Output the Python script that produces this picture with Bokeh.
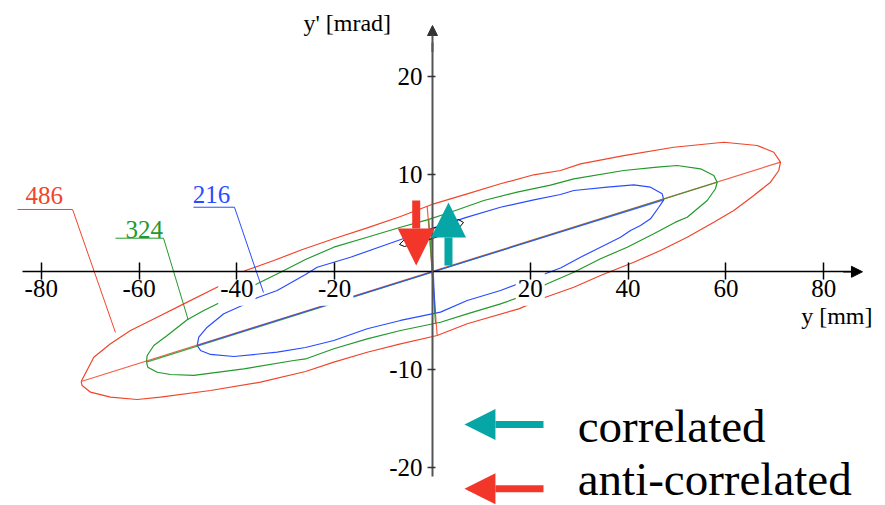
from bokeh.plotting import figure
from bokeh.models import Range1d, FixedTicker, Arrow, NormalHead, Label, CustomJSTickFormatter
from bokeh.embed import file_html
from bokeh.resources import INLINE

# --- phase-space contours: y [mm], y' [mrad] -------------------------------
red_y = [-71.84, -69.26, -65.85, -61.76, -56.30, -50.86, -43.35, -38.24, -32.45,
         -26.59, -20.18, -13.35, -6.54, 0.27, 7.10, 13.91, 20.72, 26.18, 30.27,
         39.12, 49.35, 59.57, 66.40, 69.80, 71.17, 70.82, 69.12, 65.71, 61.62,
         57.53, 52.09, 46.63, 41.17, 34.36, 28.90, 23.11, 17.65, 7.10, 0.96,
         -6.54, -13.35, -20.18, -25.97, -35.17, -45.40, -55.62, -60.39, -65.85,
         -69.94, -71.64, -71.84]
red_yp = [-11.23, -8.74, -7.37, -6.01, -4.65, -3.28, -1.40, 0.13, 1.16,
          2.28, 3.38, 4.50, 5.66, 6.96, 7.98, 9.01, 9.93, 10.37, 11.05,
          11.90, 12.75, 13.26, 12.93, 12.24, 11.22, 10.37, 9.17, 7.81, 6.27,
          5.08, 3.54, 2.18, 0.98, -0.38, -1.58, -2.60, -3.79, -5.32, -6.52,
          -7.37, -8.23, -9.25, -10.20, -11.30, -12.15, -12.83, -13.07, -12.83,
          -12.32, -11.64, -11.23]

green_y = [-58.49, -58.34, -56.99, -54.25, -50.16, -46.77, -43.35, -35.85, -31.08,
           -25.97, -20.18, -13.35, -6.54, -1.08, 3.68, 10.49, 17.32, 24.13, 28.90,
           39.12, 45.95, 50.04, 54.81, 57.53, 58.22, 57.87, 56.18, 52.09, 49.69,
           45.26, 39.82, 34.36, 28.90, 23.11, 20.72, 13.91, 7.10, 1.64, -6.54,
           -13.35, -20.18, -25.97, -28.36, -38.59, -48.81, -53.58, -56.30, -58.22,
           -58.49]
green_yp = [-9.25, -8.57, -7.54, -6.52, -4.91, -3.96, -3.11, -1.23, -0.04,
            1.26, 2.52, 3.54, 4.56, 5.32, 6.10, 7.30, 8.15, 8.88, 9.52,
            10.37, 10.71, 10.88, 10.54, 9.86, 9.17, 8.50, 7.30, 5.59, 5.08,
            3.89, 2.52, 1.33, -0.04, -1.30, -2.09, -3.28, -4.30, -5.16, -6.01,
            -6.86, -7.88, -8.92, -9.08, -9.93, -10.61, -10.51, -10.28, -9.76,
            -9.25]

blue_y = [-48.12, -47.79, -46.07, -42.68, -38.92, -35.85, -31.76, -25.97, -23.58,
          -16.77, -9.96, -3.13, 0.27, 7.10, 13.91, 20.72, 26.18, 28.90, 35.73,
          41.17, 44.58, 46.97, 47.30, 46.28, 44.58, 42.54, 40.49, 38.45, 34.36,
          30.27, 26.18, 22.09, 13.91, 7.10, 1.64, -6.54, -13.35, -20.18, -25.97,
          -31.76, -40.63, -45.40, -47.44, -48.12]
blue_yp = [-7.54, -6.69, -5.67, -4.30, -3.45, -2.66, -1.91, -0.28, 0.47,
           1.49, 2.69, 3.89, 4.50, 5.59, 6.61, 7.37, 7.91, 8.32, 8.66,
           8.90, 8.66, 7.98, 7.37, 6.61, 5.42, 4.74, 4.23, 3.54, 2.52,
           1.49, 0.39, -0.38, -1.91, -2.94, -4.13, -4.98, -5.83, -7.03, -7.75,
           -8.23, -8.67, -8.46, -8.05, -7.54]

# principal axis (tip to tip) and the line through y = 0 for each contour
red_axis_y, red_axis_yp = [-71.84, 71.17], [-11.23, 11.22]
green_axis_y, green_axis_yp = [-58.49, 58.22], [-9.25, 9.17]
blue_axis_y, blue_axis_yp = [-48.12, 47.30], [-7.54, 7.37]
red_cut_y, red_cut_yp = [-1.08, 0.96], [6.70, -6.52]
green_cut_y, green_cut_yp = [-0.76, 0.61], [5.37, -5.27]
blue_cut_y, blue_cut_yp = [-0.27, 0.55], [4.43, -4.24]

# small black outline near the origin
star_y = [-6.75, -5.52, -2.86, 0.0, 2.86, 5.32, 6.34, 5.32, 2.86, 0.0, -2.86, -5.73, -6.75]
star_yp = [2.80, 3.41, 3.92, 4.43, 4.84, 5.35, 5.05, 4.43, 3.92, 3.41, 3.00, 2.59, 2.80]

# contour labels with their leader lines
labels = ["486", "324", "216"]
label_x = [-83.23, -62.78, -49.02]
label_yp = [6.92, 3.44, 7.02]
leader_x = [[-84.87, -73.60, -64.83], [-64.83, -55.00, -49.96], [-48.88, -40.49, -34.56]]
leader_yp = [[6.38, 6.38, -6.21], [3.44, 3.44, -4.91], [6.61, 6.61, -2.12]]

x_ticks = [-80, -60, -40, -20, 20, 40, 60, 80]
y_ticks = [-20, -10, 10, 20]

RED = "#f0452a"
GREEN = "#22992a"
BLUE = "#2a4cff"
ARROW_RED = "#f2362a"
TEAL = "#07a6a6"
FONT = "Liberation Serif"

# plot scale: pixels per data unit (frame is 885 x 505 px)
X0, X1 = -88.34, 92.64
Y0, Y1 = -23.92, 27.77
PX_X = 885 / (X1 - X0)
PX_Y = 505 / (Y1 - Y0)

p = figure(width=885, height=505, x_range=Range1d(X0, X1),
           y_range=Range1d(Y0, Y1), output_backend="svg",
           toolbar_location=None, min_border=0, outline_line_color=None,
           background_fill_color="white", border_fill_color="white")
p.grid.visible = False

# contours
for xs, ys, c in [(red_y, red_yp, RED), (green_y, green_yp, GREEN), (blue_y, blue_yp, BLUE)]:
    p.line(xs, ys, line_color=c, line_width=1.2)
for xs, ys, c in [(red_axis_y, red_axis_yp, RED), (green_axis_y, green_axis_yp, GREEN),
                  (blue_axis_y, blue_axis_yp, BLUE),
                  (red_cut_y, red_cut_yp, RED), (green_cut_y, green_cut_yp, GREEN),
                  (blue_cut_y, blue_cut_yp, BLUE)]:
    p.line(xs, ys, line_color=c, line_width=1.2, line_alpha=0.85)
p.line(star_y, star_yp, line_color="black", line_width=1)

# white boxes behind the x tick labels (the curves are interrupted there)
def label_half_width(t):
    s = str(t)
    return (12.5 * sum(ch.isdigit() for ch in s) + 8.3 * s.count("-")) / 2 + 2

p.quad(left=[t - label_half_width(t) / PX_X for t in x_ticks],
       right=[t + label_half_width(t) / PX_X for t in x_ticks],
       top=[0] * len(x_ticks), bottom=[-34 / PX_Y] * len(x_ticks),
       fill_color="white", line_color=None)

# leaders and contour labels
for lx, ly, c in zip(leader_x, leader_yp, [RED, GREEN, BLUE]):
    p.line(lx, ly, line_color=c, line_width=1)
for t, x, y, c in zip(labels, label_x, label_yp, [RED, GREEN, BLUE]):
    p.add_layout(Label(x=x, y=y, text=t, text_font=FONT, text_font_size="25px",
                       text_color=c))

# axes crossing at the origin
xa, ya = p.xaxis[0], p.yaxis[0]
xa.fixed_location = 0
ya.fixed_location = 0
xa.ticker = FixedTicker(ticks=x_ticks)
ya.ticker = FixedTicker(ticks=y_ticks)
xa.bounds = (-83.8, 86.0)
ya.bounds = (-21.0, 23.5)
xa.axis_line_color = "black"
xa.axis_line_width = 1.5
xa.major_tick_line_width = 1.5
xa.major_tick_in = 9
xa.major_tick_out = 8
xa.major_label_standoff = 0
ya.axis_line_color = "#555555"
ya.axis_line_width = 2
ya.major_tick_line_color = "#333333"
ya.major_tick_line_width = 1.5
ya.major_tick_in = 3
ya.major_tick_out = 5
ya.major_label_standoff = 5
for ax in (xa, ya):
    ax.formatter = CustomJSTickFormatter(code="return tick.toFixed(0)")
    ax.minor_tick_line_color = None
    ax.major_label_text_font = FONT
    ax.major_label_text_font_size = "25px"
    ax.major_label_text_color = "black"

p.add_layout(Arrow(end=NormalHead(size=11, fill_color="black", line_color="black", line_width=1),
                   x_start=84.0, y_start=0, x_end=87.93, y_end=0,
                   line_color="black", line_width=1.5))
p.add_layout(Arrow(end=NormalHead(size=10, fill_color="#333333", line_color="#333333", line_width=1),
                   x_start=0, y_start=22.5, x_end=0, y_end=25.21,
                   line_color="#555555", line_width=2))

p.add_layout(Label(x=75.40, y=-5.82, text="y [mm]", text_font=FONT,
                   text_font_size="24px", text_color="black"))
p.add_layout(Label(x=-26.38, y=24.13, text="y' [mrad]", text_font=FONT,
                   text_font_size="24px", text_color="black"))

# correlation arrows at the origin
p.add_layout(Arrow(end=NormalHead(size=37, fill_color=ARROW_RED, line_color=None),
                   x_start=-3.33, y_start=7.30, x_end=-3.33, y_end=0.64,
                   line_color=ARROW_RED, line_width=8))
p.add_layout(Arrow(end=NormalHead(size=35, fill_color=TEAL, line_color=None),
                   x_start=3.27, y_start=0.64, x_end=3.27, y_end=7.09,
                   line_color=TEAL, line_width=8))

# key
key_text = ["correlated", "anti-correlated"]
key_colors = [TEAL, ARROW_RED]
key_arrow_yp = [-15.63, -22.21]
key_text_yp = [-18.43, -23.86]
for t, c, ay, ty in zip(key_text, key_colors, key_arrow_yp, key_text_yp):
    p.add_layout(Arrow(end=NormalHead(size=31, fill_color=c, line_color=None),
                       x_start=22.7, y_start=ay, x_end=6.54, y_end=ay,
                       line_color=c, line_width=7))
    p.add_layout(Label(x=29.7, y=ty, text=t, text_font=FONT, text_font_size="47px",
                       text_color="black"))

open("out.html", "w").write(file_html(p, INLINE))
